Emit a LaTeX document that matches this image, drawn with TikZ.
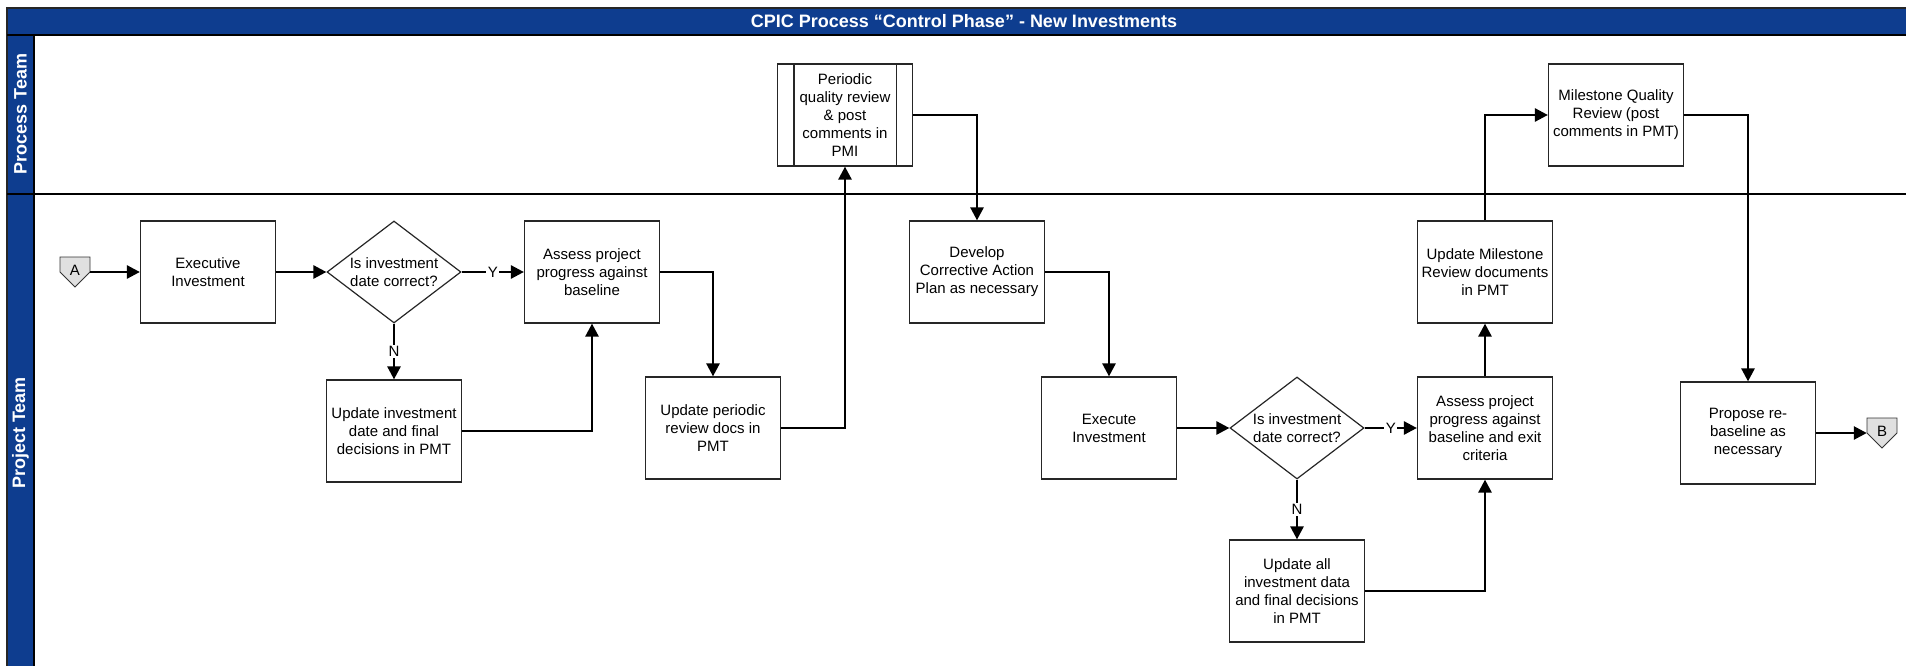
\documentclass[tikz,border=0pt]{standalone}
\usepackage{fontspec}
\setmainfont{Liberation Sans}
\usetikzlibrary{arrows.meta,shapes.geometric}
\definecolor{lanenavy}{RGB}{14,61,143}
\tikzset{
	box/.style={draw=black!85, line width=1.2pt, fill=white, minimum width=135pt, minimum height=102pt, inner sep=2pt, align=center, font=\fontsize{15}{18}\selectfont},
	decision/.style={diamond, draw=black!85, line width=1.2pt, fill=white, minimum width=134pt, minimum height=102pt, inner sep=0pt},
	diatext/.style={align=center, inner sep=0pt, font=\fontsize{15}{18}\selectfont},
	flow/.style={line width=2.6pt, -{Triangle[length=13pt,width=13pt]}},
	yn/.style={fill=white, inner sep=1.5pt, font=\fontsize{15}{18}\selectfont},
	lanelabel/.style={rotate=90, text=white, font=\fontsize{18}{20}\selectfont\bfseries},
	banner/.style={text=white, font=\fontsize{18}{20}\selectfont\bfseries}
}
\def\offpage(#1)(#2:#3)#4{%
	\draw[fill=black!12, draw=black!80, line width=0.8pt] (#2-15,#3-15) -- (#2+15,#3-15) -- (#2+15,#3) -- (#2,#3+15) -- (#2-15,#3) -- cycle;
	\node[inner sep=0pt, minimum size=30pt, font=\fontsize{15}{18}\selectfont] (#1) at (#2,#3) {\raisebox{4pt}{#4}};}

\begin{document}
\begin{tikzpicture}[x=1pt, y=-1pt]
			%%%%% START %%%%%
			\useasboundingbox (0,0) rectangle (1906,666);
			
			% frame and lanes
			\fill[lanenavy] (7,8) rectangle (1906,35);
			\fill[lanenavy] (7,35) rectangle (34,666);
			\draw[line width=1.5pt, black!85] (1906,8) -- (7,8) -- (7,666);
			\draw[line width=1.2pt] (7,35) -- (1906,35);
			\draw[line width=1.2pt] (34,35) -- (34,666);
			\draw[line width=1.2pt] (7,194) -- (1906,194);
			
			\node[banner] (ttl) at (964,21.5) {CPIC Process “Control Phase” - New Investments};
			\node[lanelabel] (proclane) at (20.5,114) {Process Team};
			\node[lanelabel] (projlane) at (20.5,433) {Project Team};
			
			% project team, first loop
			\offpage(A)(75:272){A}
			\node[box] (exec) at (208,272) {Executive\\Investment};
			\node[decision, label={[diatext]center:Is investment\\date correct?}] (dia1) at (394,272) {};
			\node[box] (assess1) at (592,272) {Assess project\\progress against\\baseline};
			\node[box] (updinv) at (394,431) {Update investment\\date and final\\decisions in PMT};
			\node[box] (updper) at (713,428) {Update periodic\\review docs in\\PMT};
			
			% process team
			\node[box] (pqr) at (845,115) {Periodic\\quality review\\\& post\\comments in\\PMI};
			\draw[line width=1.2pt, black!85] ([xshift=17pt]pqr.north west) -- ([xshift=17pt]pqr.south west);
			\draw[line width=1.2pt, black!85] ([xshift=-17pt]pqr.north east) -- ([xshift=-17pt]pqr.south east);
			\node[box] (milestone) at (1616,115) {Milestone Quality\\Review (post\\comments in PMT)};
			
			% project team, second loop
			\node[box] (develop) at (977,272) {Develop\\Corrective Action\\Plan as necessary};
			\node[box] (execute) at (1109,428) {Execute\\Investment};
			\node[decision, label={[diatext]center:Is investment\\date correct?}] (dia2) at (1297,428) {};
			\node[box] (assess2) at (1485,428) {Assess project\\progress against\\baseline and exit\\criteria};
			\node[box] (updall) at (1297,591) {Update all\\investment data\\and final decisions\\in PMT};
			\node[box] (updmile) at (1485,272) {Update Milestone\\Review documents\\in PMT};
			\node[box] (propose) at (1748,433) {Propose re-\\baseline as\\necessary};
			\offpage(B)(1882:433){B}
			
			% connectors
			\draw[flow] (A.east) -- (exec.west);
			\draw[flow] (exec.east) -- (dia1.west);
			\draw[flow] (dia1.east) -- node[yn] {Y} (assess1.west);
			\draw[flow] (dia1.south) -- node[yn] {N} (updinv.north);
			\draw[flow] (updinv.east) -| (assess1.south);
			\draw[flow] (assess1.east) -| (updper.north);
			\draw[flow] (updper.east) -| (pqr.south);
			\draw[flow] (pqr.east) -| (develop.north);
			\draw[flow] (develop.east) -| (execute.north);
			\draw[flow] (execute.east) -- (dia2.west);
			\draw[flow] (dia2.east) -- node[yn] {Y} (assess2.west);
			\draw[flow] (dia2.south) -- node[yn] {N} (updall.north);
			\draw[flow] (updall.east) -| (assess2.south);
			\draw[flow] (assess2.north) -- (updmile.south);
			\draw[flow] (updmile.north) |- (milestone.west);
			\draw[flow] (milestone.east) -| (propose.north);
			\draw[flow] (propose.east) -- (B.west);
			
			%%%%% END %%%%%
\end{tikzpicture}
\end{document}
